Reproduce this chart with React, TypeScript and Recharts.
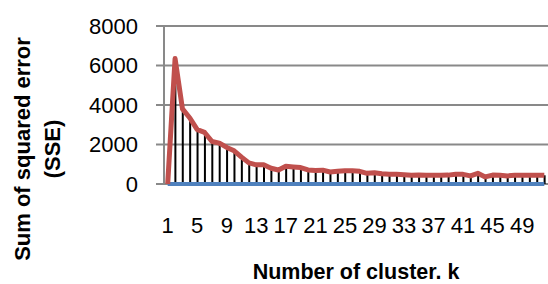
import { ComposedChart, Line, Bar, XAxis, YAxis, CartesianGrid, Label } from 'recharts'

// number of clusters
const clusterK = [
  1, 2, 3, 4, 5, 6, 7, 8, 9, 10, 11, 12, 13, 14, 15, 16, 17, 18, 19, 20, 21, 22, 23, 24, 25, 26,
  27, 28, 29, 30, 31, 32, 33, 34, 35, 36, 37, 38, 39, 40, 41, 42, 43, 44, 45, 46, 47, 48, 49, 50, 51, 52,
]

// sum of squared error per k
const sse = [
  0, 6350, 3800, 3340, 2750, 2610, 2150, 2070, 1850, 1680, 1360, 1070, 970, 970, 800, 710, 900, 865, 830, 710,
  680, 700, 610, 640, 670, 670, 640, 540, 570, 520, 490, 490, 470, 440, 450, 440, 440, 440, 450, 490,
  490, 410, 540, 360, 450, 440, 410, 440, 440, 440, 440, 440,
]

// flat series at zero (blue)
const zeroLine = [
  0, 0, 0, 0, 0, 0, 0, 0, 0, 0, 0, 0, 0, 0, 0, 0, 0, 0, 0, 0, 0, 0, 0, 0, 0, 0,
  0, 0, 0, 0, 0, 0, 0, 0, 0, 0, 0, 0, 0, 0, 0, 0, 0, 0, 0, 0, 0, 0, 0, 0, 0, 0,
]

const yTicks = [0, 2000, 4000, 6000, 8000]

const data = clusterK.map((k, i) => ({ k, sse: sse[i], zero: zeroLine[i] }))

const FONT = '"Liberation Sans", Arial, sans-serif'
const GRID = '#898989'
const tickStyle = { fill: '#000', fontSize: 22, fontFamily: FONT }

export default function App() {
  return (
    <div style={{ position: 'absolute', left: 0, top: 0, width: 548, height: 284, background: '#fff' }}>
      <ComposedChart width={548} height={284} data={data} margin={{ top: 26, right: 0, bottom: 0, left: 0 }}>
        <CartesianGrid vertical={false} stroke={GRID} strokeWidth={2} />
        <XAxis dataKey="k" interval={3} height={100} tick={tickStyle} tickLine={false} tickSize={0}
          tickMargin={33} axisLine={false}>
          <Label content={() => (
            <text x={356} y={279} textAnchor="middle" fontFamily={FONT} fontSize={21.5} fontWeight="bold" fill="#000">
              Number of cluster. k
            </text>
          )} />
        </XAxis>
        <YAxis width={164} domain={[0, 8000]} ticks={yTicks} tick={tickStyle} tickSize={8} tickMargin={18}
          tickLine={{ stroke: GRID, strokeWidth: 2 }} axisLine={{ stroke: GRID, strokeWidth: 2 }}>
          <Label content={() => (
            <g fontFamily={FONT} fontSize={22} fontWeight="bold" fill="#000">
              <text x={30} y={149} textAnchor="middle" transform="rotate(-90, 30, 149)">Sum of squared error</text>
              <text x={60} y={149} textAnchor="middle" transform="rotate(-90, 60, 149)">(SSE)</text>
            </g>
          )} />
        </YAxis>
        <Line dataKey="zero" stroke="#4f81bd" strokeWidth={4} dot={false} isAnimationActive={false} />
        <Line dataKey="sse" stroke="#c0504d" strokeWidth={5} dot={false} strokeLinejoin="round" isAnimationActive={false} />
        <Bar dataKey="sse" barSize={2} fill="#000" isAnimationActive={false} />
      </ComposedChart>
    </div>
  )
}
